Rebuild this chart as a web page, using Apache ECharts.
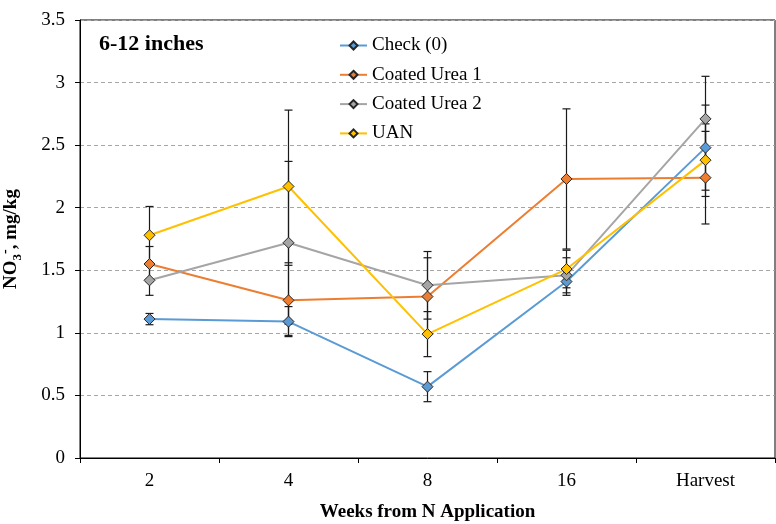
<!DOCTYPE html>
<html>
<head>
<meta charset="utf-8">
<script src="https://cdn.jsdelivr.net/npm/echarts@6/dist/echarts.min.js"></script>
<style>
  html, body { margin: 0; padding: 0; background: #fff; }
  #chart { width: 776px; height: 524px; }
</style>
</head>
<body>
<div id="chart"></div>
<script>
const categories = ['2', '4', '8', '16', 'Harvest'];
const yTicks = [0, 0.5, 1, 1.5, 2, 2.5, 3, 3.5];

const checkValues = [1.11, 1.09, 0.57, 1.41, 2.48];
const checkErr = [0.045, 0.12, 0.12, 0.11, 0.34];
const urea1Values = [1.55, 1.26, 1.29, 2.23, 2.24];
const urea1Err = [0.14, 0.28, 0.31, 0.56, 0.37];
const urea2Values = [1.42, 1.72, 1.38, 1.46, 2.71];
const urea2Err = [0.12, 0.65, 0.27, 0.14, 0.34];
const uanValues = [1.78, 2.17, 0.99, 1.51, 2.38];
const uanErr = [0.23, 0.61, 0.18, 0.15, 0.29];

const FONT = '"Liberation Serif", "Times New Roman", serif';

const chart = echarts.init(document.getElementById('chart'));

function lineSeries(name, values, color) {
    return {
        name: name,
        type: 'line',
        data: values,
        z: 3,
        symbol: 'diamond',
        symbolSize: 11,
        lineStyle: { color: color, width: 2 },
        itemStyle: { color: color, borderColor: '#262626', borderWidth: 1 },
        emphasis: { disabled: true },
    };
}

// vertical error bar with caps, drawn under the line markers
function errorSeries(values, errs) {
    return {
        type: 'custom',
        z: 2,
        silent: true,
        data: values.map((v, i) => [i, v - errs[i], v + errs[i]]),
        encode: { x: 0, y: [1, 2] },
        renderItem: (params, api) => {
            const lo = api.coord([api.value(0), api.value(1)]);
            const hi = api.coord([api.value(0), api.value(2)]);
            const half = 4;
            const style = { stroke: '#1a1a1a', lineWidth: 1.2 };
            return {
                type: 'group',
                children: [
                    { type: 'line', shape: { x1: lo[0], y1: lo[1], x2: hi[0], y2: hi[1] }, style: style },
                    { type: 'line', shape: { x1: lo[0] - half, y1: lo[1], x2: lo[0] + half, y2: lo[1] }, style: style },
                    { type: 'line', shape: { x1: hi[0] - half, y1: hi[1], x2: hi[0] + half, y2: hi[1] }, style: style },
                ],
            };
        },
    };
}

const option = {
    animation: false,
    textStyle: { fontFamily: FONT },
    grid: {
        left: 80,
        right: 1,
        top: 20,
        bottom: 66,
        outerBoundsMode: 'none',
        containLabel: false,
        show: true,
        borderColor: '#000',
        borderWidth: 1,
    },
    title: {
        text: '6-12 inches',
        left: 94,
        top: 28,
        textStyle: { fontFamily: FONT, fontSize: 22, fontWeight: 'bold', color: '#000' },
    },
    legend: {
        orient: 'vertical',
        left: 334,
        top: 31,
        itemWidth: 27,
        itemHeight: 10,
        itemGap: 10.3,
        data: ['Check (0)', 'Coated Urea 1', 'Coated Urea 2', 'UAN'],
        textStyle: { fontFamily: FONT, fontSize: 19, color: '#000', lineHeight: 19 },
    },
    xAxis: {
        type: 'category',
        data: categories,
        boundaryGap: true,
        name: 'Weeks from N Application',
        nameLocation: 'middle',
        nameGap: 45,
        nameTextStyle: { fontFamily: FONT, fontSize: 19, fontWeight: 'bold', color: '#000' },
        axisLine: { lineStyle: { color: '#000', width: 1 } },
        axisTick: { show: true, alignWithLabel: false, length: 5, lineStyle: { color: '#000' } },
        axisLabel: { fontFamily: FONT, fontSize: 19, color: '#000', margin: 14 },
        splitLine: { show: false },
    },
    yAxis: {
        type: 'value',
        min: yTicks[0],
        max: yTicks[yTicks.length - 1],
        interval: 0.5,
        name: '{b|NO}{sub|3}{sup|-}{b|, mg/kg}',
        nameLocation: 'middle',
        nameRotate: 90,
        nameGap: 56,
        nameTextStyle: {
            rich: {
                b: { fontFamily: FONT, fontSize: 19, fontWeight: 'bold', color: '#000', lineHeight: 26 },
                sub: { fontFamily: FONT, fontSize: 13, fontWeight: 'bold', color: '#000', verticalAlign: 'bottom', lineHeight: 26 },
                sup: { fontFamily: FONT, fontSize: 14, fontWeight: 'bold', color: '#000', verticalAlign: 'top', lineHeight: 26 },
            },
        },
        axisLine: { show: true, lineStyle: { color: '#000', width: 1 } },
        axisTick: { show: true, length: 5, lineStyle: { color: '#000' } },
        axisLabel: { fontFamily: FONT, fontSize: 19, color: '#000', margin: 15 },
        splitLine: { lineStyle: { color: '#a6a6a6', type: [4, 3], width: 1 } },
    },
    series: [
        errorSeries(checkValues, checkErr),
        errorSeries(urea1Values, urea1Err),
        errorSeries(urea2Values, urea2Err),
        errorSeries(uanValues, uanErr),
        lineSeries('Check (0)', checkValues, '#5B9BD5'),
        lineSeries('Coated Urea 1', urea1Values, '#ED7D31'),
        lineSeries('Coated Urea 2', urea2Values, '#A5A5A5'),
        lineSeries('UAN', uanValues, '#FFC000'),
    ],
};

chart.setOption(option);
</script>
</body>
</html>
